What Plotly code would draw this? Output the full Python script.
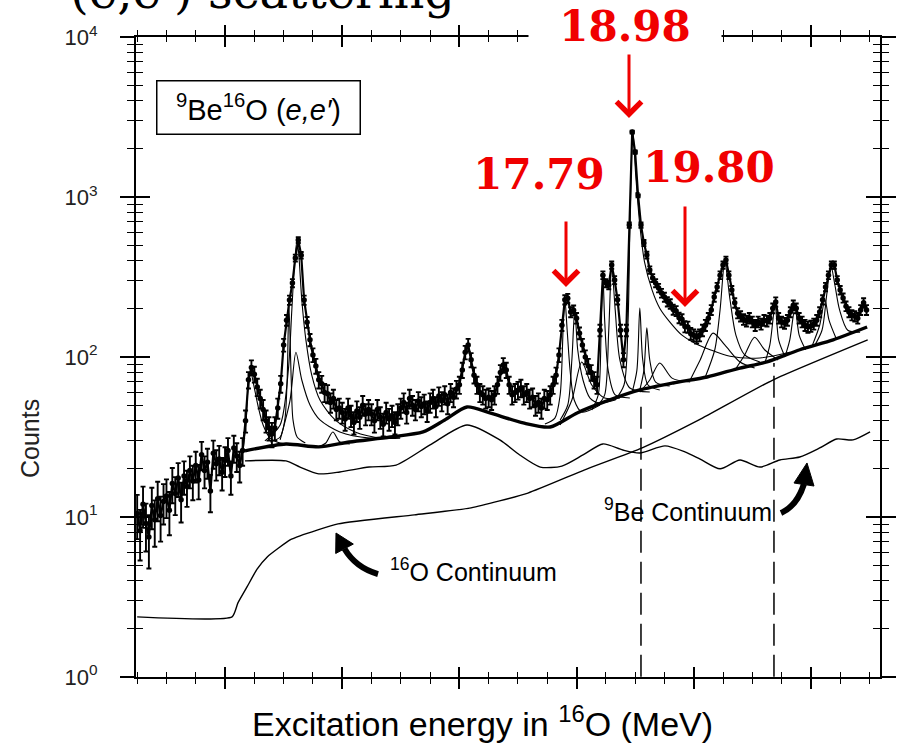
import plotly.graph_objects as go

# ---------------- measured spectrum (counts per bin) ----------------
spec_E = [
    10.50, 10.55, 10.60, 10.65, 10.70, 10.75, 10.80, 10.85, 10.90, 10.95,
    11.00, 11.05, 11.10, 11.15, 11.20, 11.25, 11.30, 11.35, 11.40, 11.45,
    11.50, 11.55, 11.60, 11.65, 11.70, 11.75, 11.80, 11.85, 11.90, 11.95,
    12.00, 12.05, 12.10, 12.15, 12.20, 12.25, 12.30, 12.35, 12.40, 12.45,
    12.50, 12.55, 12.60, 12.65, 12.70, 12.75, 12.80, 12.85, 12.90, 12.95,
    13.00, 13.05, 13.10, 13.15, 13.20, 13.25, 13.30, 13.35, 13.40, 13.45,
    13.50, 13.55, 13.60, 13.65, 13.70, 13.75, 13.80, 13.85, 13.90, 13.95,
    14.00, 14.05, 14.10, 14.15, 14.20, 14.25, 14.30, 14.35, 14.40, 14.45,
    14.50, 14.55, 14.60, 14.65, 14.70, 14.75, 14.80, 14.85, 14.90, 14.95,
    15.00, 15.05, 15.10, 15.15, 15.20, 15.25, 15.30, 15.35, 15.40, 15.45,
    15.50, 15.55, 15.60, 15.65, 15.70, 15.75, 15.80, 15.85, 15.90, 15.95,
    16.00, 16.05, 16.10, 16.15, 16.20, 16.25, 16.30, 16.35, 16.40, 16.45,
    16.50, 16.55, 16.60, 16.65, 16.70, 16.75, 16.80, 16.85, 16.90, 16.95,
    17.00, 17.05, 17.10, 17.15, 17.20, 17.25, 17.30, 17.35, 17.40, 17.45,
    17.50, 17.55, 17.60, 17.65, 17.70, 17.75, 17.80, 17.85, 17.90, 17.95,
    18.00, 18.05, 18.10, 18.15, 18.20, 18.25, 18.30, 18.35, 18.40, 18.45,
    18.50, 18.55, 18.60, 18.65, 18.70, 18.75, 18.80, 18.85, 18.90, 18.95,
    19.00, 19.05, 19.10, 19.15, 19.20, 19.25, 19.30, 19.35, 19.40, 19.45,
    19.50, 19.55, 19.60, 19.65, 19.70, 19.75, 19.80, 19.85, 19.90, 19.95,
    20.00, 20.05, 20.10, 20.15, 20.20, 20.25, 20.30, 20.35, 20.40, 20.45,
    20.50, 20.55, 20.60, 20.65, 20.70, 20.75, 20.80, 20.85, 20.90, 20.95,
    21.00, 21.05, 21.10, 21.15, 21.20, 21.25, 21.30, 21.35, 21.40, 21.45,
    21.50, 21.55, 21.60, 21.65, 21.70, 21.75, 21.80, 21.85, 21.90, 21.95,
    22.00, 22.05, 22.10, 22.15, 22.20, 22.25, 22.30, 22.35, 22.40, 22.45,
    22.50, 22.55, 22.60, 22.65, 22.70, 22.75, 22.80, 22.85, 22.90, 22.95,
]
spec_N = [
    10.5, 8.2, 12.0, 9.1, 7.5, 11.8, 9.6, 13.0, 10.2, 12.5,
    13.5, 11.0, 16.2, 14.0, 17.5, 12.8, 18.0, 15.5, 19.5, 16.8,
    21.0, 17.0, 24.5, 19.5, 22.0, 14.5, 25.0, 21.5, 23.0, 19.0,
    22.5, 26.0, 18.0, 27.0, 24.0, 21.0, 26.0, 40.0, 72.0, 86.0,
    78, 65, 55, 47, 40, 36, 33, 36, 48, 68,
    119, 170, 227, 290, 416, 539, 433, 227, 165, 128,
    103, 88, 72, 68, 60, 59, 52, 55, 47, 48,
    45, 41, 48, 43, 39, 46, 42, 50, 44, 47,
    44, 40, 47, 42, 38, 45, 41, 43, 39, 44,
    48, 52, 45, 55, 50, 47, 53, 49, 51, 46,
    52, 55, 49, 57, 53, 58, 51, 60, 56, 63,
    67, 83, 107, 119, 96, 77, 67, 60, 58, 55,
    56, 54, 58, 67, 80, 89, 83, 67, 58, 60,
    62, 64, 58, 60, 55, 56, 50, 52, 48, 55,
    54, 58, 67, 77, 103, 158, 228, 233, 191, 196,
    175, 141, 119, 100, 88, 80, 72, 67, 147, 325,
    290, 282, 376, 303, 228, 147, 96, 147, 668, 2550,
    1911, 1029, 668, 516, 434, 350, 312, 290, 270, 251,
    237, 222, 215, 198, 194, 176, 172, 155, 154, 140,
    137, 133, 137, 147, 158, 175, 197, 237, 274, 325,
    376, 404, 325, 262, 218, 188, 180, 172, 168, 175,
    166, 158, 166, 161, 170, 168, 175, 202, 221, 175,
    166, 163, 170, 191, 211, 202, 175, 166, 158, 154,
    156, 161, 170, 191, 228, 274, 325, 376, 376, 303,
    262, 234, 208, 191, 183, 180, 175, 197, 218, 197,
]

# ---------------- continua and total background ----------------
o16_E = [10.50, 12.12, 12.22, 12.375, 12.55, 12.72, 13.11, 13.28, 13.93, 15.23,
         16.20, 17.17, 18.14, 19.12, 20.09, 21.35, 22.97]
o16_N = [2.37, 2.37, 2.90, 3.65, 4.73, 5.62, 7.18, 7.61, 9.04, 10.3,
         11.4, 14.1, 19.7, 27.0, 40.4, 71.8, 128]

be9_E = [12.34, 13.04, 13.28, 13.60, 13.96, 14.46, 14.92, 15.50, 16.13, 16.69,
         17.03, 17.38, 17.75, 18.11, 18.45, 18.79, 19.08, 19.51, 19.85, 20.11,
         20.45, 20.79, 21.13, 21.47, 21.81, 22.15, 22.44, 22.72, 23.01]
be9_N = [22.4, 22.4, 20.5, 18.6, 19.1, 20.5, 21.1, 28.2, 37.6, 30.3,
         24.4, 20.5, 20.8, 24.4, 28.6, 26.2, 25.1, 27.8, 25.5, 23.0,
         20.0, 22.7, 20.5, 22.7, 23.7, 27.0, 30.7, 30.3, 34.0]

bg_E = [12.34, 13.04, 13.60, 14.12, 14.82, 15.38, 15.75, 16.13, 16.52, 17.09,
        17.55, 18.01, 18.52, 19.08, 19.65, 20.23, 20.79, 21.25, 21.81, 22.38, 22.96]
bg_N = [25.9, 28.6, 27.4, 29.4, 31.6, 34.0, 40.4, 48.7, 44.7, 38.7,
        36.5, 44.7, 53.1, 62.2, 68.8, 75.0, 85.3, 93.1, 111, 128, 154]

# ---------------- fitted line components (on top of background) ----------------
c1_E = [12.31, 12.36, 12.39, 12.44, 12.49, 12.56, 12.65, 12.77, 12.94, 13.28]
c1_N = [26.6, 40.4, 62.2, 80.0, 66.8, 50.1, 37.6, 31.1, 29.0, 28.2]
c2_E = [12.77, 12.94, 13.02, 13.06, 13.09, 13.13, 13.16, 13.23, 13.37]
c2_N = [29.4, 31.6, 40.4, 71.8, 211, 71.8, 40.4, 31.6, 29.0]
c3_E = [12.68, 12.94, 13.08, 13.14, 13.19, 13.23, 13.26, 13.31, 13.38, 13.48,
        13.62, 13.88, 14.22, 14.65, 14.99]
c3_N = [29.9, 37.6, 82.5, 197, 404, 539, 433, 228, 128, 77.0,
        53.8, 40.4, 34.0, 31.1, 31.6]
c4_E = [12.94, 13.11, 13.21, 13.31, 13.45, 13.62, 13.96, 14.47, 14.99]
c4_N = [30.3, 53.8, 107, 71.8, 50.1, 40.4, 34.0, 31.1, 31.1]
c5_E = [13.59, 13.72, 13.84, 13.96, 14.13]
c5_N = [27.4, 29.0, 34.0, 29.4, 28.6]
r1_E = [17.46, 17.63, 17.72, 17.77, 17.80, 17.84, 17.89, 17.96, 18.09, 18.40]
r1_N = [38.1, 41.5, 57.9, 147, 233, 147, 82.5, 53.8, 45.3, 50.1]
r2_E = [17.72, 17.85, 17.92, 17.97, 18.02, 18.11, 18.23, 18.40, 18.66]
r2_N = [40.4, 50.1, 95.8, 197, 111, 71.8, 55.4, 51.6, 53.8]
r3_E = [17.72, 17.92, 18.09, 18.26, 18.48, 18.74]
r3_N = [37.6, 53.8, 93.1, 66.8, 55.4, 55.4]
r4_E = [18.26, 18.37, 18.42, 18.45, 18.48, 18.54, 18.66, 18.91]
r4_N = [46.6, 57.9, 147, 325, 170, 82.5, 57.9, 55.4]
r5_E = [18.37, 18.48, 18.55, 18.60, 18.66, 18.74, 18.91, 19.25]
r5_N = [50.1, 57.9, 147, 376, 197, 95.8, 64.0, 60.4]
r6_E = [18.66, 18.81, 18.88, 18.91, 18.96, 19.01, 19.08, 19.16, 19.29, 19.42,
        19.59, 19.80, 20.02, 20.28, 20.62, 21.13, 21.64]
r6_N = [53.8, 66.8, 170, 622, 2623, 1373, 668, 394, 262, 202,
        166, 137, 122, 111, 101, 98.6, 107]
r7_E = [18.95, 19.03, 19.08, 19.13, 19.22, 19.42]
r7_N = [60.4, 82.5, 202, 95.8, 66.8, 62.2]
r8_E = [19.08, 19.15, 19.20, 19.25, 19.35, 19.59]
r8_N = [62.2, 82.5, 152, 95.8, 69.7, 65.8]
r9_E = [19.08, 19.25, 19.42, 19.63, 19.94]
r9_N = [60.4, 71.8, 91.7, 73.8, 69.7]
r10_E = [19.94, 20.11, 20.33, 20.53, 20.79, 21.04]
r10_N = [71.8, 95.8, 141, 119, 93.1, 85.3]
r11_E = [20.19, 20.36, 20.45, 20.53, 20.62, 20.72, 20.87, 21.13]
r11_N = [73.8, 111, 197, 394, 228, 137, 103, 93.1]
r12_E = [20.70, 20.87, 21.04, 21.21, 21.44]
r12_N = [82.5, 103, 133, 111, 95.8]
r13_E = [21.21, 21.30, 21.39, 21.45, 21.56]
r13_N = [90.4, 119, 211, 128, 100]
r14_E = [21.56, 21.64, 21.73, 21.80, 21.91]
r14_N = [101, 128, 205, 137, 111]
r15_E = [22.07, 22.19, 22.27, 22.34, 22.41, 22.49, 22.63, 22.84]
r15_N = [119, 147, 244, 376, 282, 197, 147, 143]
r16_E = [22.02, 22.15, 22.24, 22.31, 22.43]
r16_N = [117, 158, 228, 170, 131]

# dashed threshold markers
thr_E = [19.10, 21.37]
thr_top = [50.1, 91.7]

# highlighted levels (MeV)
level_labels = ["17.79", "18.98", "19.80"]

# axis ticks
y_major = [1, 10, 100, 1000, 10000]
y_major_text = ["10<sup>0</sup>", "10<sup>1</sup>", "10<sup>2</sup>", "10<sup>3</sup>", "10<sup>4</sup>"]
y_minor = [m * d for d in (1, 10, 100, 1000) for m in range(2, 10)]
x_major = [12, 14, 16, 18, 20, 22]

components = [
    (c1_E, c1_N), (c2_E, c2_N), (c3_E, c3_N), (c4_E, c4_N), (c5_E, c5_N),
    (r1_E, r1_N), (r2_E, r2_N), (r3_E, r3_N), (r4_E, r4_N), (r5_E, r5_N),
    (r6_E, r6_N), (r7_E, r7_N), (r8_E, r8_N), (r9_E, r9_N), (r10_E, r10_N),
    (r11_E, r11_N), (r12_E, r12_N), (r13_E, r13_N), (r14_E, r14_N),
    (r15_E, r15_N), (r16_E, r16_N),
]

fig = go.Figure()

# continua
fig.add_trace(go.Scatter(x=o16_E, y=o16_N, mode="lines",
                         line=dict(color="black", width=1.4, shape="spline", smoothing=0.5),
                         hoverinfo="skip", showlegend=False))
fig.add_trace(go.Scatter(x=be9_E, y=be9_N, mode="lines",
                         line=dict(color="black", width=1.4, shape="spline", smoothing=0.7),
                         hoverinfo="skip", showlegend=False))

# fitted components
for cE, cN in components:
    fig.add_trace(go.Scatter(x=cE, y=cN, mode="lines",
                             line=dict(color="black", width=1.1, shape="spline", smoothing=0.8),
                             hoverinfo="skip", showlegend=False))

# total background (thick)
fig.add_trace(go.Scatter(x=bg_E, y=bg_N, mode="lines",
                         line=dict(color="black", width=3.4, shape="spline", smoothing=0.7),
                         hoverinfo="skip", showlegend=False))

# dashed lines
for e, top in zip(thr_E, thr_top):
    fig.add_trace(go.Scatter(x=[e, e], y=[1, top], mode="lines",
                             line=dict(color="black", width=1.5, dash="22px,9px"),
                             hoverinfo="skip", showlegend=False))

# data with statistical error bars
fig.add_trace(go.Scatter(x=spec_E, y=spec_N, mode="lines+markers",
                         line=dict(color="black", width=2.2),
                         marker=dict(color="black", size=5.5),
                         error_y=dict(type="sqrt", color="black", thickness=1.9, width=2.5),
                         showlegend=False))

# dummy trace for overlay axes (inside ticks)
fig.add_trace(go.Scatter(x=[None], y=[None], xaxis="x2", yaxis="y2",
                         showlegend=False, hoverinfo="skip"))

xr = [10.48, 23.18]
yr = [-0.001, 4.001]
fig.update_layout(
    template="none",
    width=898, height=748, autosize=False,
    margin=dict(l=136, r=18, t=37, b=71, pad=0),
    paper_bgcolor="white", plot_bgcolor="white",
    font=dict(family="Liberation Sans, Arial, sans-serif", color="black"),
    xaxis=dict(range=xr, automargin=False, showgrid=False, zeroline=False, showline=True,
               linecolor="black", linewidth=2, mirror="allticks", ticks="outside",
               tickvals=x_major, ticklen=10, tickwidth=1.5, tickcolor="black",
               showticklabels=False,
               minor=dict(dtick=0.5, tick0=0, ticks="outside", ticklen=5, tickwidth=1.3,
                          tickcolor="black", showgrid=False)),
    xaxis2=dict(range=xr, automargin=False, overlaying="x", anchor="y2", showgrid=False,
                zeroline=False, showline=False, mirror="allticks", ticks="inside",
                tickvals=x_major, ticklen=10, tickwidth=1.5, tickcolor="black",
                showticklabels=False,
                minor=dict(dtick=0.5, tick0=0, ticks="inside", ticklen=5, tickwidth=1.3,
                           tickcolor="black", showgrid=False)),
    yaxis=dict(type="log", range=yr, automargin=False, showgrid=False, zeroline=False,
               showline=True, linecolor="black", linewidth=2, mirror="allticks",
               ticks="outside", tickvals=y_major, ticktext=y_major_text, ticklen=14,
               tickwidth=1.5, tickcolor="black", ticklabelstandoff=18,
               tickfont=dict(size=22, color="#222", family="Liberation Sans, Arial, sans-serif"),
               minor=dict(tickvals=y_minor, ticks="outside", ticklen=7, tickwidth=1.3,
                          tickcolor="black", showgrid=False)),
    yaxis2=dict(type="log", range=yr, automargin=False, overlaying="y", anchor="x2",
                side="left", showgrid=False, zeroline=False, showline=False,
                mirror="allticks", ticks="inside", tickvals=y_major, ticklen=14,
                tickwidth=1.5, tickcolor="black", showticklabels=False,
                minor=dict(tickvals=y_minor, ticks="inside", ticklen=7, tickwidth=1.3,
                           tickcolor="black", showgrid=False)),
)

def px2paper(px, py):
    return (px - 136) / 744.0, (677 - py) / 640.0

ann = []
# cut-off slide title
ann.append(dict(xref="paper", yref="paper", x=-0.0914, y=1.072, xanchor="left", yanchor="middle",
                text="(e,e') scattering", showarrow=False,
                font=dict(family="DejaVu Serif, serif", size=48, color="black")))
# boxed reaction label
ann.append(dict(xref="paper", yref="paper", x=0.1653, y=0.8906, xanchor="center", yanchor="middle",
                text="<sup>9</sup>Be<sup>16</sup>O (<i>e,e′</i>)", showarrow=False,
                font=dict(size=29, color="black"), bordercolor="black", borderwidth=1.5,
                borderpad=3, width=196, height=46, bgcolor="white"))
# y title
ann.append(dict(xref="paper", yref="paper", x=-0.1425, y=0.3734, xanchor="center", yanchor="middle",
                text="Counts", textangle=-90, showarrow=False, font=dict(size=25, color="#222")))
# x title
ann.append(dict(xref="paper", yref="paper", x=0.4651, y=-0.0703, xanchor="center", yanchor="middle",
                text="Excitation energy in <sup>16</sup>O (MeV)", showarrow=False,
                font=dict(size=34, color="black")))
# continuum labels
ann.append(dict(xref="paper", yref="paper", x=0.4543, y=0.1672, xanchor="center", yanchor="middle",
                text="<sup>16</sup>O Continuum", showarrow=False, font=dict(size=25, color="black")))
ann.append(dict(xref="paper", yref="paper", x=0.7413, y=0.2609, xanchor="center", yanchor="middle",
                text="<sup>9</sup>Be Continuum", showarrow=False, font=dict(size=25, color="black")))
# red level labels
red_font = dict(family="DejaVu Serif, serif", size=42, color="#f00000")
for lab, (cx, cy), w in zip(level_labels, [(539, 175), (625, 26), (709, 167)], [130, 190, 136]):
    x, y = px2paper(cx, cy)
    ann.append(dict(xref="paper", yref="paper", x=x, y=y, xanchor="center", yanchor="middle",
                    text="<b>" + lab + "</b>", showarrow=False, font=red_font,
                    bgcolor="white", width=w))
# red arrows
for (tx, ty), L in zip([(566, 287), (629, 118), (685, 307)], [67, 65, 102]):
    x, y = px2paper(tx, ty)
    ann.append(dict(xref="paper", yref="paper", x=x, y=y, ax=0, ay=-L, text="",
                    showarrow=True, arrowhead=4, arrowsize=1.6, arrowwidth=3,
                    arrowcolor="#f00000", standoff=0))
fig.update_layout(annotations=ann)

def P(px, py):
    x, y = px2paper(px, py)
    return f"{x:.4f},{y:.4f}"

shapes = [
    # 16O continuum arrow
    dict(type="path", xref="paper", yref="paper",
         path=f"M {P(378,574)} Q {P(356,568)} {P(344.5,548.8)}",
         line=dict(color="black", width=6)),
    dict(type="path", xref="paper", yref="paper",
         path=f"M {P(336,533)} L {P(353.3,544.1)} L {P(335.7,553.5)} Z",
         fillcolor="black", line=dict(color="black", width=1)),
    # 9Be continuum arrow
    dict(type="path", xref="paper", yref="paper",
         path=f"M {P(781,513)} Q {P(797,506)} {P(804,484)}",
         line=dict(color="black", width=6)),
    dict(type="path", xref="paper", yref="paper",
         path=f"M {P(807,463)} L {P(814,486)} L {P(794,483)} Z",
         fillcolor="black", line=dict(color="black", width=1)),
]
fig.update_layout(shapes=shapes)

fig.write_html(
    "out.html",
    config={"responsive": False},
    post_script=(
        "document.body.style.margin='0px';"
        "document.body.style.padding='0px';"
        "document.body.style.overflow='hidden';"
        "document.documentElement.style.overflow='hidden';"
    ),
)
